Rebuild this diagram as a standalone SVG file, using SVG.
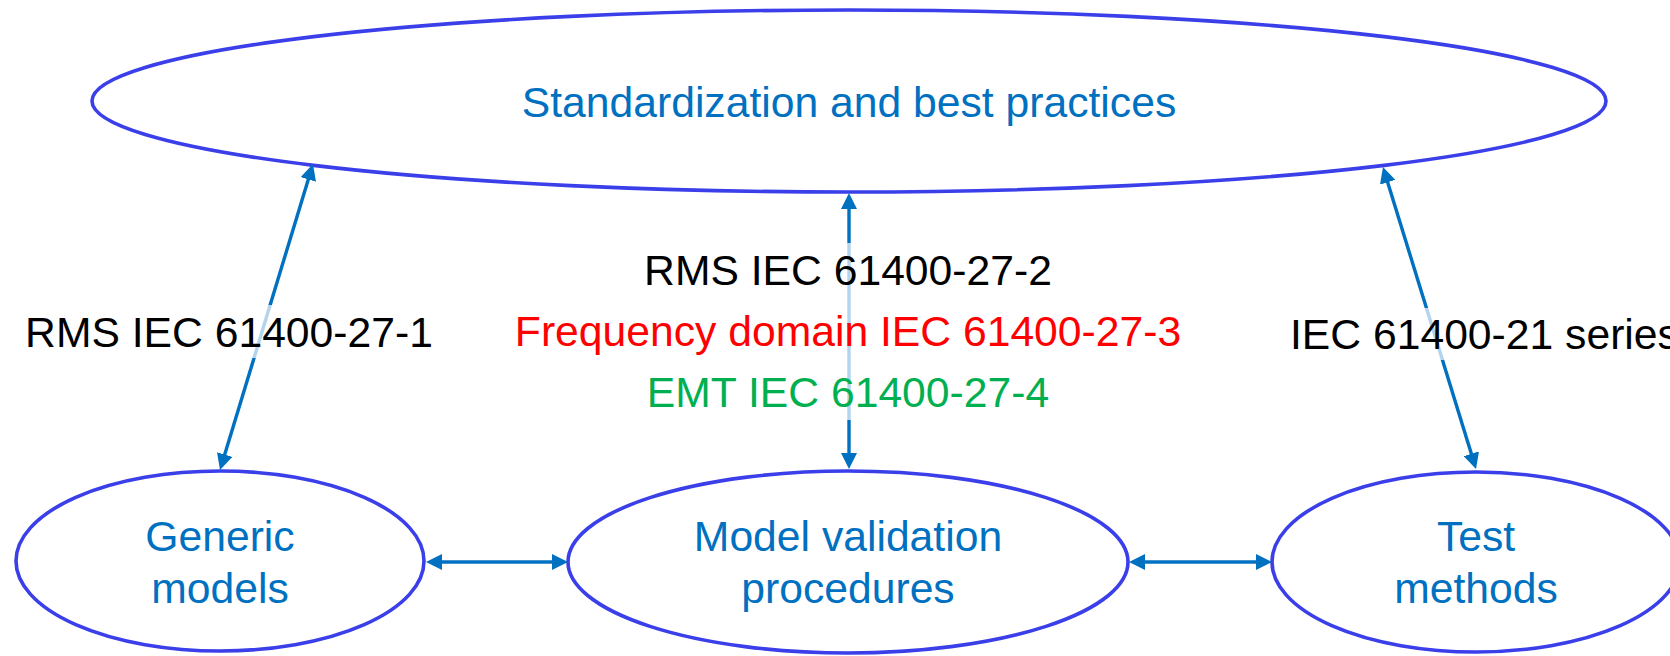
<svg xmlns="http://www.w3.org/2000/svg" width="1670" height="656" viewBox="0 0 1670 656">
  <style>
    .node { fill: #ffffff; stroke: #3A3FE9; stroke-width: 3.6; }
    .ntext { font-family: "Liberation Sans", Arial, sans-serif; font-size: 42.67px; fill: #0070C0; text-anchor: middle; }
    .conn { stroke: #0070C0; stroke-width: 3.4; fill: none; marker-start: url(#ah); marker-end: url(#ah); }
    .lbox { fill: #ffffff; fill-opacity: 0.7; }
    .ltext { font-family: "Liberation Sans", Arial, sans-serif; font-size: 42.67px; }
  </style>
  <defs>
    <marker id="ah" markerUnits="userSpaceOnUse" markerWidth="16" markerHeight="16" refX="3" refY="8" orient="auto-start-reverse" viewBox="0 0 16 16">
      <path d="M0,0 L16,8 L0,16 Z" fill="#0070C0"/>
    </marker>
  </defs>
  <rect width="1670" height="656" fill="#ffffff"/>

  <g id="n-standardization">
    <ellipse class="node" cx="849" cy="101" rx="757" ry="91"/>
    <text class="ntext" x="849" y="117">Standardization and best practices</text>
  </g>
  <g id="n-generic">
    <ellipse class="node" cx="220" cy="561" rx="204" ry="90"/>
    <text class="ntext" x="220" y="551">Generic</text>
    <text class="ntext" x="220" y="603">models</text>
  </g>
  <g id="n-validation">
    <ellipse class="node" cx="848" cy="562" rx="280" ry="91"/>
    <text class="ntext" x="848" y="551">Model validation</text>
    <text class="ntext" x="848" y="603">procedures</text>
  </g>
  <g id="n-test">
    <ellipse class="node" cx="1476" cy="562" rx="204" ry="90"/>
    <text class="ntext" x="1476" y="551">Test</text>
    <text class="ntext" x="1476" y="603">methods</text>
  </g>

  <g id="connectors">
    <line class="conn" x1="309.2" y1="176.5" x2="223.8" y2="457.5"/>
    <line class="conn" x1="849" y1="206" x2="849" y2="456"/>
    <line class="conn" x1="1386.8" y1="179.4" x2="1472.2" y2="456.6"/>
    <line class="conn" x1="439" y1="562" x2="555" y2="562"/>
    <line class="conn" x1="1142" y1="562" x2="1259" y2="562"/>

    <g id="label-left">
      <rect class="lbox" x="22" y="305" width="414" height="53"/>
      <text class="ltext" x="229" y="347" text-anchor="middle" fill="#000000">RMS IEC 61400-27-1</text>
    </g>
    <g id="label-middle">
      <rect class="lbox" x="510" y="243" width="678" height="177"/>
      <text class="ltext" x="848" y="285" text-anchor="middle" fill="#000000">RMS IEC 61400-27-2</text>
      <text class="ltext" x="848" y="346" text-anchor="middle" fill="#FF0000">Frequency domain IEC 61400-27-3</text>
      <text class="ltext" x="848" y="407" text-anchor="middle" fill="#00B050">EMT IEC 61400-27-4</text>
    </g>
    <g id="label-right">
      <rect class="lbox" x="1284" y="308" width="400" height="52"/>
      <text class="ltext" x="1290" y="349" fill="#000000">IEC 61400-21 series</text>
    </g>
  </g>
</svg>
